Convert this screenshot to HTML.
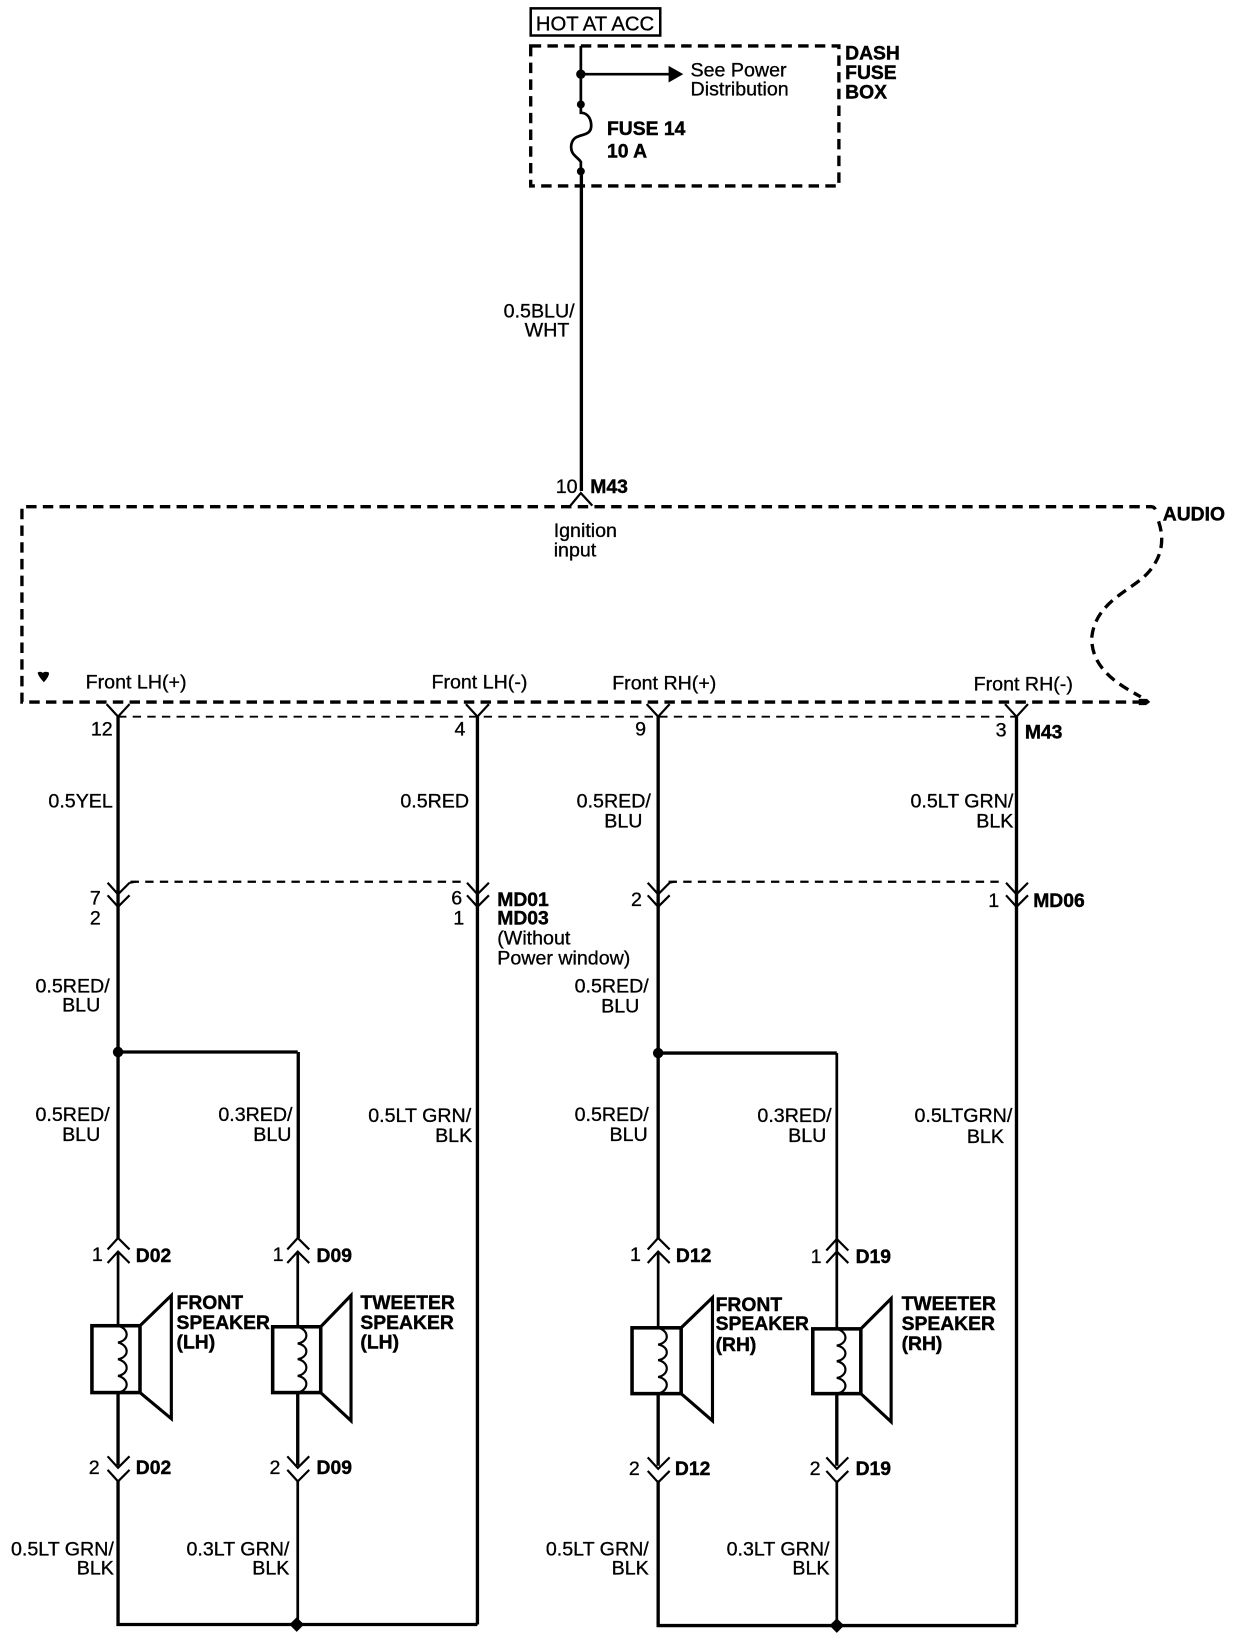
<!DOCTYPE html>
<html><head><meta charset="utf-8"><style>
html,body{margin:0;padding:0;background:#fff;width:1248px;height:1638px;overflow:hidden}
svg{display:block}
text{font-family:"Liberation Sans",Arial,sans-serif;font-size:18.8px;fill:#000;stroke:#000;stroke-width:.3}
.b{font-weight:bold;font-size:18.5px;stroke-width:.4}
.e{text-anchor:end}
.w{fill:none;stroke:#000;stroke-width:3.2}
.t{fill:none;stroke:#000;stroke-width:2.6}
.c{fill:none;stroke:#000;stroke-width:2.1}
.d{fill:none;stroke:#000;stroke-width:3.2;stroke-dasharray:10 6}
.f{fill:none;stroke:#000;stroke-width:1.8;stroke-dasharray:8 6}
.s{fill:#fff;stroke:#000;stroke-width:3.4}
</style></head><body>
<svg width="1248" height="1638" viewBox="0 0 1248 1638" xmlns="http://www.w3.org/2000/svg">
<rect width="1248" height="1638" fill="#fff"/>
<g transform="scale(1.0447)">
<!-- top -->
<rect x="508" y="8" width="124" height="26" fill="none" stroke="#000" stroke-width="2.4"/>
<text x="513" y="29" style="font-size:19.4px">HOT AT ACC</text>
<rect class="d" x="508" y="44" width="295" height="134"/>
<path class="t" d="M556 44V108C566 108 568 122 564 126C560 131 549 128 547 138C545 148 553 150 556 155V164"/>
<path class="w" d="M556.5 164V470"/>
<path class="t" d="M556 71H642"/>
<path d="M640 63L654 71L640 79Z"/>
<circle cx="556" cy="71" r="4.5"/><circle cx="556" cy="100" r="3.8"/><circle cx="556" cy="164" r="3.8"/>
<text x="661" y="73">See Power</text><text x="661" y="91.5">Distribution</text>
<text class="b" x="581" y="129">FUSE 14</text><text class="b" x="581" y="151">10 A</text>
<text class="b" x="809" y="57">DASH</text><text class="b" x="809" y="75.5">FUSE</text><text class="b" x="809" y="94.5">BOX</text>
<text class="e" x="550" y="304">0.5BLU/</text><text class="e" x="545" y="322">WHT</text>
<text x="532" y="472">10</text><text class="b" x="565" y="472">M43</text>
<path class="c" d="M546 484L556 472L567 484"/>
<!-- audio -->
<path class="d" d="M1094 672H21V485H1102Q1106 485 1107 491"/>
<path class="d" d="M1109 499C1115 517 1112 533 1100 547C1085 565 1048 575 1045 611C1045 640 1070 655 1092 667"/>
<path d="M1090 669L1098 669L1101 672L1097 675L1090 675Z"/>
<text class="b" x="1113" y="498">AUDIO</text>
<text x="530" y="514">Ignition</text><text x="530" y="532.5">input</text>
<path d="M36 644Q38 642 41 644Q44 642 47 644Q47 648 42 653Q37 648 36 644Z"/>
<text x="82" y="659">Front LH(+)</text><text x="413" y="659">Front LH(-)</text><text x="586" y="660">Front RH(+)</text><text x="932" y="661">Front RH(-)</text>
<path class="f" d="M113 686H973"/>
<path class="c" d="M102 674L113 686L124 674M446 674L457 686L468 674M619 674L630 686L641 674M962 674L973 686L984 674"/>
<text x="87" y="704">12</text><text x="435" y="704">4</text><text x="608" y="704">9</text><text x="953" y="705">3</text><text class="b" x="981" y="707">M43</text>
<!-- main wires -->
<path class="w" d="M113 686V1185M457 686V1555M630 686V1185M973 686V1555"/>
<path class="w" d="M113 1007H285M630 1008H801"/>
<path class="w" d="M285.5 1007V1185"/>
<path class="t" d="M285 1198V1270M801 1008V1272M113 1198V1269M630 1198V1271"/>
<path class="w" d="M113 1333V1403M285 1333V1403M630 1334V1403M801 1334V1403"/>
<path class="w" d="M113 1417V1555H457M630 1417V1556H973"/>
<path class="t" d="M285 1417V1555M801 1417V1556"/>
<circle cx="113" cy="1007" r="5"/><circle cx="630" cy="1008" r="5"/>
<path d="M284 1548L291 1555L284 1562L277 1555ZM801 1549L808 1556L801 1563L794 1556Z"/>
<!-- row labels -->
<text class="e" x="108" y="773">0.5YEL</text><text class="e" x="449" y="773">0.5RED</text>
<text class="e" x="623" y="773">0.5RED/</text><text class="e" x="615" y="792">BLU</text>
<text class="e" x="970" y="773">0.5LT GRN/</text><text class="e" x="970" y="792">BLK</text>
<!-- mid connectors -->
<path class="f" d="M125 844H445M640 844H960" style="stroke-width:2.2"/>
<path class="c" d="M103 845L113 856L124 845M103 857L113 868L124 857M447 845L457 856L468 845M447 857L457 868L468 857M620 845L630 856L641 845M620 857L630 868L641 857M963 845L973 856L984 845M963 857L973 868L984 857"/>
<path class="c" d="M124 845L130 844M640 845L646 844"/>
<text x="86" y="866">7</text><text x="86" y="885">2</text><text x="432" y="866">6</text><text x="434" y="885">1</text>
<text class="b" x="476" y="867">MD01</text><text class="b" x="476" y="885">MD03</text>
<text x="476" y="904">(Without</text><text x="476" y="923">Power window)</text>
<text x="604" y="867">2</text><text x="946" y="868">1</text><text class="b" x="989" y="868">MD06</text>
<text class="e" x="105" y="950">0.5RED/</text><text class="e" x="96" y="968">BLU</text>
<text class="e" x="621" y="950">0.5RED/</text><text class="e" x="612" y="969">BLU</text>
<text class="e" x="105" y="1073">0.5RED/</text><text class="e" x="96" y="1092">BLU</text>
<text class="e" x="280" y="1073">0.3RED/</text><text class="e" x="279" y="1092">BLU</text>
<text class="e" x="451" y="1074">0.5LT GRN/</text><text class="e" x="452" y="1093">BLK</text>
<text class="e" x="621" y="1073">0.5RED/</text><text class="e" x="620" y="1092">BLU</text>
<text class="e" x="796" y="1074">0.3RED/</text><text class="e" x="791" y="1093">BLU</text>
<text class="e" x="969" y="1074">0.5LTGRN/</text><text class="e" x="961" y="1094">BLK</text>
<!-- up connectors -->
<path class="c" d="M103 1196L113 1185L124 1196M103 1209L113 1198L124 1209M275 1196L285 1185L296 1196M275 1209L285 1198L296 1209M620 1196L630 1185L641 1196M620 1209L630 1198L641 1209M791 1197L801 1186L812 1197M791 1209L801 1198L812 1209"/>
<text x="88" y="1207">1</text><text class="b" x="130" y="1208">D02</text>
<text x="261" y="1207">1</text><text class="b" x="303" y="1208">D09</text>
<text x="603" y="1207">1</text><text class="b" x="647" y="1208">D12</text>
<text x="776" y="1209">1</text><text class="b" x="819" y="1209">D19</text>
<!-- speakers -->
<g>
<path class="s" style="stroke-width:3" d="M134 1269L164 1240V1358L134 1333"/>
<rect class="s" x="88" y="1269" width="46" height="64"/>
<path class="c" d="M113 1269C124 1272 124 1283 113 1285C124 1288 124 1299 113 1301C124 1304 124 1315 113 1317C124 1320 124 1331 113 1333"/>
</g>
<g>
<path class="s" style="stroke-width:3" d="M307 1270L336 1240V1360L307 1333"/>
<rect class="s" x="261" y="1270" width="46" height="63"/>
<path class="c" d="M285 1270C296 1273 296 1284 285 1286C296 1288 296 1299 285 1301C296 1303 296 1315 285 1317C296 1319 296 1330 285 1333"/>
</g>
<g>
<path class="s" style="stroke-width:3" d="M652 1271L682 1242V1360L652 1334"/>
<rect class="s" x="605" y="1271" width="47" height="63"/>
<path class="c" d="M630 1271C641 1274 641 1285 630 1287C641 1289 641 1300 630 1302C641 1304 641 1316 630 1318C641 1320 641 1331 630 1334"/>
</g>
<g>
<path class="s" style="stroke-width:3" d="M824 1272L853 1243V1361L824 1334"/>
<rect class="s" x="778" y="1272" width="46" height="62"/>
<path class="c" d="M801 1272C812 1275 812 1286 801 1288C812 1290 812 1301 801 1303C812 1305 812 1317 801 1319C812 1321 812 1332 801 1334"/>
</g>
<text class="b" x="169" y="1253">FRONT</text><text class="b" x="169" y="1272">SPEAKER</text><text class="b" x="169" y="1291">(LH)</text>
<text class="b" x="345" y="1253">TWEETER</text><text class="b" x="345" y="1272">SPEAKER</text><text class="b" x="345" y="1291">(LH)</text>
<text class="b" x="685" y="1255">FRONT</text><text class="b" x="685" y="1273">SPEAKER</text><text class="b" x="685" y="1293">(RH)</text>
<text class="b" x="863" y="1254">TWEETER</text><text class="b" x="863" y="1273">SPEAKER</text><text class="b" x="863" y="1292">(RH)</text>
<!-- down connectors -->
<path class="c" d="M103 1394L113 1405L124 1394M103 1407L113 1418L124 1407M275 1394L285 1405L296 1394M275 1407L285 1418L296 1407M620 1395L630 1406L641 1395M620 1408L630 1419L641 1408M791 1395L801 1406L812 1395M791 1408L801 1419L812 1408"/>
<text x="85" y="1411">2</text><text class="b" x="130" y="1411">D02</text>
<text x="258" y="1411">2</text><text class="b" x="303" y="1411">D09</text>
<text x="602" y="1412">2</text><text class="b" x="646" y="1412">D12</text>
<text x="775" y="1412">2</text><text class="b" x="819" y="1412">D19</text>
<text class="e" x="109" y="1489">0.5LT GRN/</text><text class="e" x="109" y="1507">BLK</text>
<text class="e" x="277" y="1489">0.3LT GRN/</text><text class="e" x="277" y="1507">BLK</text>
<text class="e" x="621" y="1489">0.5LT GRN/</text><text class="e" x="621" y="1507">BLK</text>
<text class="e" x="794" y="1489">0.3LT GRN/</text><text class="e" x="794" y="1507">BLK</text>
</g>
</svg>
</body></html>
